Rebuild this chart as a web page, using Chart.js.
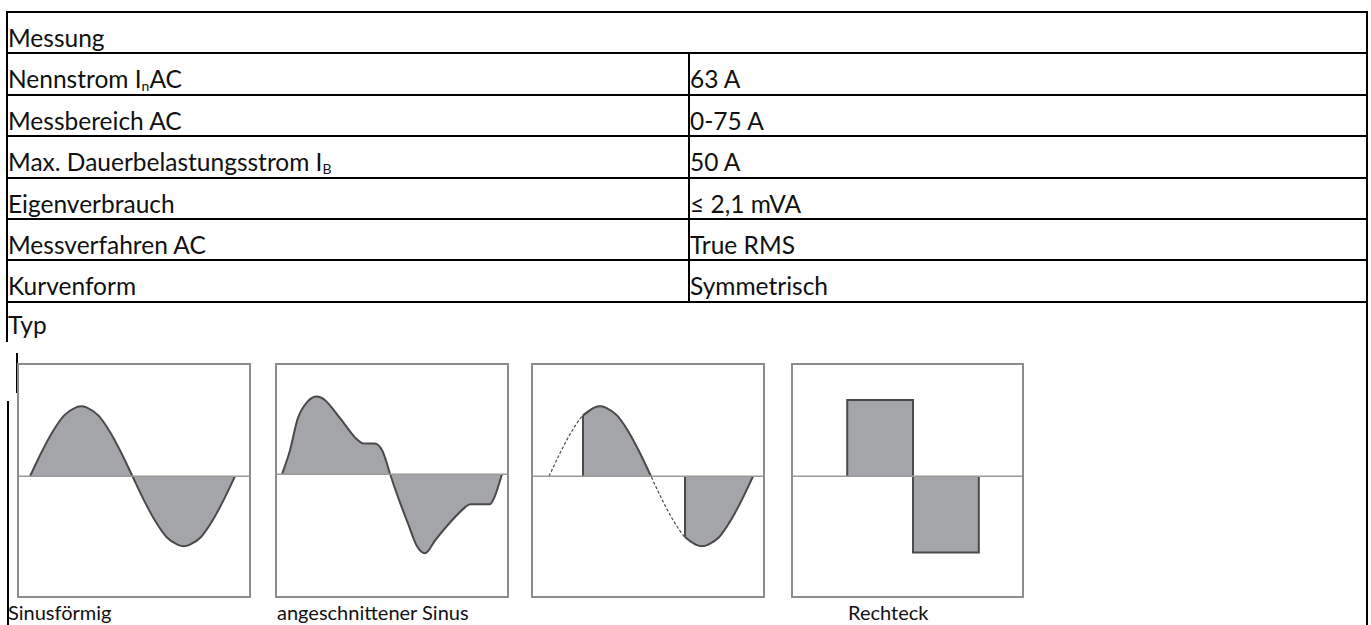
<!DOCTYPE html>
<html>
<head>
<meta charset="utf-8">
<script src="https://cdn.jsdelivr.net/npm/chart.js@4.4.1/dist/chart.umd.min.js"></script>
<style>
  html,body{margin:0;padding:0;background:#fff;}
  body{width:1371px;height:625px;overflow:hidden;position:relative;font-family:Lato,"Noto Sans",sans-serif;color:#111;}
  .hl{position:absolute;height:2px;background:#000;}
  .vl{position:absolute;width:2px;background:#000;}
  .t{position:absolute;font-size:24.5px;line-height:41px;white-space:nowrap;}
  .t sub{font-size:14px;vertical-align:-3px;line-height:0;}
  .lab{position:absolute;font-size:20px;line-height:41px;white-space:nowrap;}
  .box{position:absolute;border:2px solid #8c8c8c;box-sizing:border-box;}
  .box canvas{display:block;}
</style>
</head>
<body>
<div id="root"></div>
<script>
// ---------- table content ----------
const headerLabel = "Messung";
const rowLabels = ["Nennstrom I<sub>n</sub>AC", "Messbereich AC", "Max. Dauerbelastungsstrom I<sub>B</sub>", "Eigenverbrauch", "Messverfahren AC", "Kurvenform"];
const rowValues = ["63 A", "0-75 A", "50 A", "≤ 2,1 mVA", "True RMS", "Symmetrisch"];
const typLabel = "Typ";
const waveNames = ["Sinusförmig", "angeschnittener Sinus", "", "Rechteck"];

// ---------- waveform data (phase in degrees, amplitude relative to sine peak) ----------
const sinePhase = [0, 20, 40, 60, 80, 90, 100, 120, 140, 160, 180, 200, 220, 240, 260, 270, 280, 300, 320, 340, 360];
const sineValue = [0, 0.34, 0.64, 0.87, 0.98, 1, 0.98, 0.87, 0.64, 0.34, 0, -0.34, -0.64, -0.87, -0.98, -1, -0.98, -0.87, -0.64, -0.34, 0];

const cutPhase = [0, 8, 13, 26, 41, 57, 70, 95, 119, 133, 152, 164, 170, 177, 190, 206, 221, 234, 251, 275, 300, 308, 340, 349, 360];
const cutValue = [0, 0.2, 0.34, 0.8, 1.03, 1.11, 1.06, 0.8, 0.53, 0.44, 0.44, 0.34, 0.2, 0, -0.33, -0.7, -1.03, -1.13, -0.94, -0.69, -0.47, -0.43, -0.43, -0.3, 0];

const phaseCutPos = [60, 80, 90, 100, 120, 140, 160, 180];
const phaseCutPosValue = [0.87, 0.98, 1, 0.98, 0.87, 0.64, 0.34, 0];
const phaseCutNeg = [240, 260, 270, 280, 300, 320, 340, 360];
const phaseCutNegValue = [-0.87, -0.98, -1, -0.98, -0.87, -0.64, -0.34, 0];

const squarePhase = [0, 0, 180, 180, 360, 360];
const squareValue = [0, 1.09, 1.09, -1.09, -1.09, 0];

// ---------- layout ----------
const root = document.getElementById('root');
function add(cls, style, html){
  const d = document.createElement('div');
  d.className = cls;
  Object.assign(d.style, style);
  if (html !== undefined) d.innerHTML = html;
  root.appendChild(d);
  return d;
}
const rowTop0 = 12, rowH = 41.4, L = 6, R = 1368, colX = 688;
const rowY = i => Math.round(rowTop0 + i*rowH);
// horizontal lines
for (let i = 0; i <= 7; i++) add('hl', {left: L+'px', top: (rowY(i) - 1)+'px', width: (R-L)+'px'});
// outer vertical lines
add('vl', {left: '6px', top: rowTop0+'px', height: (342-rowTop0)+'px'});
add('vl', {left: '16px', top: '353px', height: '40px'});
add('vl', {left: '7px', top: '401px', height: '230px'});
add('vl', {left: '1366px', top: rowTop0+'px', height: (625-rowTop0)+'px'});
add('vl', {left: (colX)+'px', top: rowY(1)+'px', height: (rowY(7)-rowY(1))+'px'});
// texts
const tOff = 5;
add('t', {left: '8px', top: (rowY(0)+tOff)+'px'}, headerLabel);
rowLabels.forEach((s, i) => {
  add('t', {left: '8px', top: (rowY(i+1) + tOff)+'px'}, s);
  add('t', {left: (colX+2)+'px', top: (rowY(i+1) + tOff)+'px'}, rowValues[i]);
});
add('t', {left: '8px', top: (rowY(7) + 2)+'px'}, typLabel);
const labelX = [8, 277, 560, 848];
waveNames.forEach((s, i) => { if (s) add('lab', {left: labelX[i]+'px', top: '592px'}, s); });

// ---------- charts ----------
const boxes = [
  {l: 17, t: 363, w: 234, h: 235, xmin: -19.3, xmax: 384.6, ymin: -1.71, ymax: 1.59},
  {l: 275, t: 363, w: 234, h: 235, xmin: -8.2, xmax: 368.2, ymin: -1.74, ymax: 1.56},
  {l: 531, t: 363, w: 234, h: 235, xmin: -28.2, xmax: 377.6, ymin: -1.71, ymax: 1.59},
  {l: 791, t: 363, w: 233, h: 235, xmin: -148.4, xmax: 478.2, ymin: -1.71, ymax: 1.59}
];
const stroke = '#4a4a4a', fillC = '#a3a5a9', axisC = '#9a9a9a';
function pts(xs, ys){ return xs.map((x, i) => ({x, y: ys[i]})); }
function zeroLine(b){ return {data: [{x: b.xmin, y: 0}, {x: b.xmax, y: 0}], borderColor: axisC, borderWidth: 1.5, pointRadius: 0, fill: false, order: 0}; }
function curve(xs, ys, extra){
  return Object.assign({data: pts(xs, ys), borderColor: stroke, backgroundColor: fillC, borderWidth: 2, pointRadius: 0,
    fill: 'origin', cubicInterpolationMode: 'monotone', order: 1}, extra || {});
}
const datasets = [
  [curve(sinePhase, sineValue)],
  [curve(cutPhase, cutValue)],
  [
    curve(sinePhase, sineValue, {fill: false, borderWidth: 1.2, borderDash: [3, 2], order: 3}),
    curve(phaseCutPos, phaseCutPosValue, {order: 1}),
    curve(phaseCutNeg, phaseCutNegValue, {order: 1}),
    {data: [{x: phaseCutPos[0], y: 0}, {x: phaseCutPos[0], y: phaseCutPosValue[0]}], borderColor: stroke, borderWidth: 2, pointRadius: 0, fill: false, order: 0},
    {data: [{x: phaseCutNeg[0], y: 0}, {x: phaseCutNeg[0], y: phaseCutNegValue[0]}], borderColor: stroke, borderWidth: 2, pointRadius: 0, fill: false, order: 0}
  ],
  [curve(squarePhase, squareValue, {cubicInterpolationMode: 'default', tension: 0})]
];

boxes.forEach((b, i) => {
  const d = add('box', {left: b.l+'px', top: b.t+'px', width: b.w+'px', height: b.h+'px'});
  const c = document.createElement('canvas');
  c.width = b.w - 4; c.height = b.h - 4;
  c.style.width = (b.w-4)+'px'; c.style.height = (b.h-4)+'px';
  d.appendChild(c);
  new Chart(c, {
    type: 'line',
    data: {datasets: [zeroLine(b)].concat(datasets[i])},
    options: {
      responsive: false, animation: false, devicePixelRatio: 1,
      layout: {padding: 0},
      plugins: {legend: {display: false}, tooltip: {enabled: false}},
      scales: {
        x: {type: 'linear', min: b.xmin, max: b.xmax, display: false},
        y: {type: 'linear', min: b.ymin, max: b.ymax, display: false}
      }
    }
  });
});
</script>
</body>
</html>
